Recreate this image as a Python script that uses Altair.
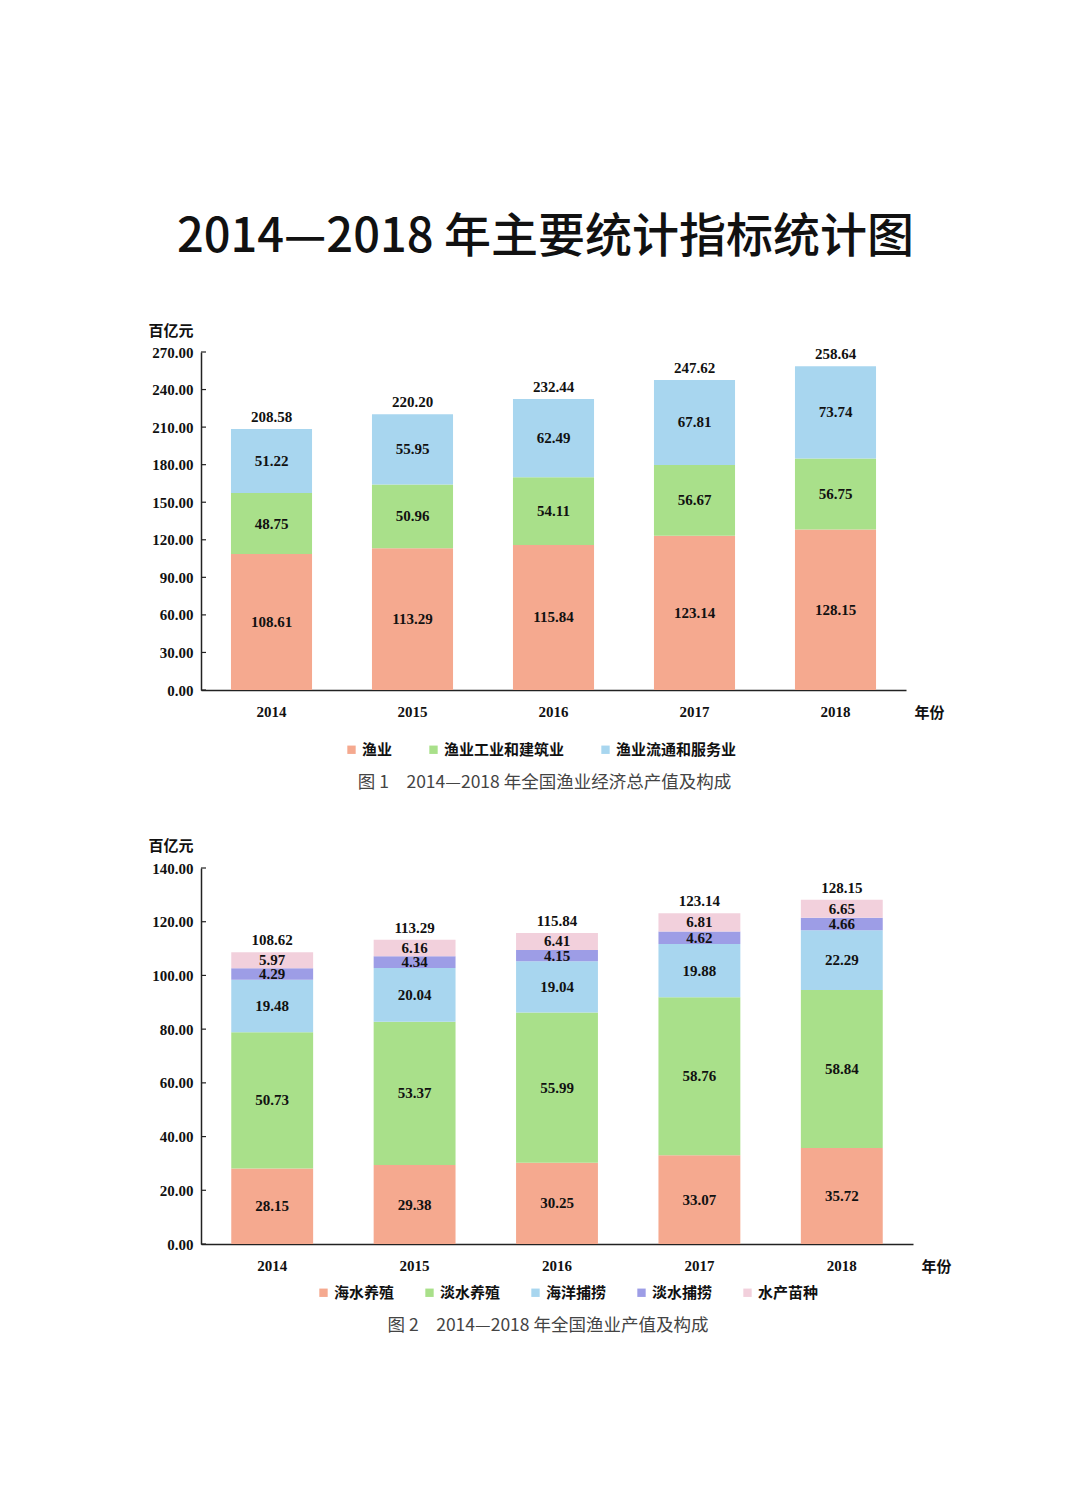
import altair as alt
import pandas as pd

years = ["2014", "2015", "2016", "2017", "2018"]

# Figure 1
c1_series = ["渔业", "渔业工业和建筑业", "渔业流通和服务业"]
c1_fishery = [108.61, 113.29, 115.84, 123.14, 128.15]
c1_industry = [48.75, 50.96, 54.11, 56.67, 56.75]
c1_service = [51.22, 55.95, 62.49, 67.81, 73.74]
c1_totals = [208.58, 220.20, 232.44, 247.62, 258.64]
c1_ticks = [0, 30, 60, 90, 120, 150, 180, 210, 240, 270]
c1_colors = ["#F5A98F", "#A9E08A", "#A8D6EF"]
c1_caption = "图 1　2014—2018 年全国渔业经济总产值及构成"

# Figure 2
c2_series = ["海水养殖", "淡水养殖", "海洋捕捞", "淡水捕捞", "水产苗种"]
c2_mariculture = [28.15, 29.38, 30.25, 33.07, 35.72]
c2_freshculture = [50.73, 53.37, 55.99, 58.76, 58.84]
c2_marinecatch = [19.48, 20.04, 19.04, 19.88, 22.29]
c2_freshcatch = [4.29, 4.34, 4.15, 4.62, 4.66]
c2_seed = [5.97, 6.16, 6.41, 6.81, 6.65]
c2_totals = [108.62, 113.29, 115.84, 123.14, 128.15]
c2_ticks = [0, 20, 40, 60, 80, 100, 120, 140]
c2_colors = ["#F5A98F", "#A9E08A", "#A8D6EF", "#9D9DE6", "#F2D0DC"]
c2_caption = "图 2　2014—2018 年全国渔业产值及构成"

main_title = "2014—2018 年主要统计指标统计图"

NUM_FONT = "Liberation Serif"
CJK_FONT = "Noto Sans CJK SC"
NUM_SIZE = 15
NUM_WEIGHT = "bold"


def long_df(series, columns):
    rows = []
    for i, (name, vals) in enumerate(zip(series, columns)):
        for y, v in zip(years, vals):
            rows.append({"year": y, "series": name, "value": v, "order": i})
    return pd.DataFrame(rows)


def panel(df, totals, series, colors, ymax, ticks, w, h, legend_x, legend_y,
          col_pad, caption, ytitle_y):
    xscale = alt.Scale(paddingInner=0.425, paddingOuter=0.2125)
    yscale = alt.Scale(domain=[0, ymax], nice=False, zero=True)
    x_axis = alt.Axis(
        title="年份", titleAngle=0, titleX=w + 23, titleY=22,
        titleAlign="center", titleBaseline="middle", titleFont=CJK_FONT,
        titleFontSize=15, titleFontWeight="bold", titleColor="#111",
        labelAngle=0, labelFont=NUM_FONT, labelFontSize=NUM_SIZE,
        labelFontWeight=NUM_WEIGHT, labelColor="#111",
        labelPadding=14, ticks=False, domainColor="#222", domainWidth=1.5,
    )
    y_axis = alt.Axis(
        title="百亿元", titleAngle=0, titleX=-8, titleY=ytitle_y,
        titleAlign="right", titleBaseline="middle", titleFont=CJK_FONT,
        titleFontSize=15, titleFontWeight="bold", titleColor="#111",
        values=ticks, format=".2f", labelFont=NUM_FONT, labelFontSize=NUM_SIZE,
        labelFontWeight=NUM_WEIGHT, labelColor="#111", labelPadding=8,
        ticks=False, grid=False, domainColor="#222", domainWidth=1.5,
    )
    X = alt.X("year:N", scale=xscale, axis=x_axis, title="年份")
    base = alt.Chart(df)
    bars = base.mark_bar().encode(
        x=X,
        y=alt.Y("value:Q", stack="zero", scale=yscale, axis=y_axis,
                title="百亿元"),
        color=alt.Color(
            "series:N",
            scale=alt.Scale(domain=series, range=colors),
            sort=series,
            legend=alt.Legend(
                orient="none", legendX=legend_x, legendY=legend_y,
                direction="horizontal", columns=len(series), title=None,
                symbolType="square", symbolSize=70, symbolStrokeWidth=0,
                labelFont=CJK_FONT, labelFontSize=15, labelFontWeight="bold",
                labelColor="#111", columnPadding=col_pad, labelOffset=3,
            ),
        ),
        order=alt.Order("order:Q"),
    )
    labels = base.transform_stack(
        stack="value", groupby=["year"], as_=["y0", "y1"],
        sort=[alt.SortField("order", order="ascending")],
    ).transform_calculate(mid="(datum.y0 + datum.y1) / 2").mark_text(
        font=NUM_FONT, fontSize=NUM_SIZE, fontWeight=NUM_WEIGHT, color="#111"
    ).encode(
        x=X,
        y=alt.Y("mid:Q", scale=yscale, axis=y_axis, title="百亿元"),
        text=alt.Text("value:Q", format=".2f"),
    )
    tot_df = pd.DataFrame({"year": years, "total": totals})
    tot = alt.Chart(tot_df).mark_text(
        font=NUM_FONT, fontSize=NUM_SIZE, fontWeight=NUM_WEIGHT, color="#111",
        dy=-12,
    ).encode(
        x=X,
        y=alt.Y("total:Q", scale=yscale, axis=y_axis, title="百亿元"),
        text=alt.Text("total:Q", format=".2f"),
    )
    tick_df = pd.DataFrame({"t": ticks})
    tk = alt.Chart(tick_df).mark_rule(color="#222", strokeWidth=1.2).encode(
        y=alt.Y("t:Q", scale=yscale, axis=y_axis, title="百亿元"),
        x=alt.value(0), x2=alt.value(5),
    )
    return alt.layer(bars, labels, tot, tk).properties(
        width=w, height=h,
        title=alt.TitleParams(
            caption, orient="bottom", anchor="middle", font=CJK_FONT,
            fontSize=17.5, fontWeight="normal", color="#444", offset=16,
            dx=-9,
        ),
    )


df1 = long_df(c1_series, [c1_fishery, c1_industry, c1_service])
df2 = long_df(c2_series, [c2_mariculture, c2_freshculture, c2_marinecatch,
                          c2_freshcatch, c2_seed])

p1 = panel(df1, c1_totals, c1_series, c1_colors, 270, c1_ticks, 705, 338,
           143, 390, 33, c1_caption, -22)
p2 = panel(df2, c2_totals, c2_series, c2_colors, 140, c2_ticks, 712, 376,
           115, 41 + 376, 27, c2_caption, -23)

chart = alt.vconcat(p1, p2, spacing=46).resolve_scale(
    color="independent", x="independent", y="independent"
).properties(
    title=alt.TitleParams(
        main_title, anchor="middle", font=CJK_FONT, fontSize=47,
        fontWeight=500, color="#111", offset=61, dx=-4,
    ),
    padding={"top": 214, "left": 147, "right": 20, "bottom": 20},
    background="white",
).configure_view(stroke=None)

chart.save("out.html", embed_options={"renderer": "svg", "actions": False})
